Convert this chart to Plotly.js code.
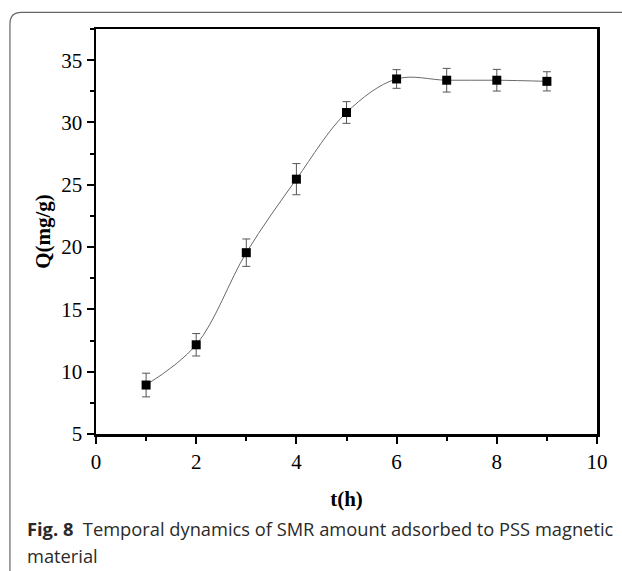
<!DOCTYPE html>
<html>
<head>
<meta charset="utf-8">
<script src="https://cdn.plot.ly/plotly-3.0.1.min.js"></script>
<style>
html,body{margin:0;padding:0;background:#fff;}
#chart{width:622px;height:571px;}
</style>
</head>
<body>
<div id="chart"></div>
<script>
// Data
var timeH = [1, 2, 3, 4, 5, 6, 7, 8, 9];
var qValues = [8.93, 12.16, 19.55, 25.45, 30.8, 33.49, 33.39, 33.39, 33.3];
var qErrors = [0.95, 0.9, 1.1, 1.25, 0.87, 0.75, 0.95, 0.87, 0.77];
var xTickVals = [0, 2, 4, 6, 8, 10];
var yTickVals = [5, 10, 15, 20, 25, 30, 35];

// Pixel geometry of the plot area
var W = 622, H = 571;
var L = 95.7, R = 597.5, T = 29, B = 434;
function px(x) { return (x - L) / (R - L); }
function py(y) { return (B - y) / (B - T); }

var serif = "'Liberation Serif', 'Times New Roman', serif";
var sans = "'Open Sans', 'Noto Sans', sans-serif";

var trace = {
  x: timeH,
  y: qValues,
  type: 'scatter',
  mode: 'lines+markers',
  line: {shape: 'spline', smoothing: 1, color: '#6a6a6a', width: 1},
  marker: {symbol: 'square', size: 9, color: '#000'},
  error_y: {type: 'data', array: qErrors, visible: true, color: '#555', thickness: 1, width: 4},
  cliponaxis: false,
  hoverinfo: 'skip'
};

// Rounded frame (caption box) path in paper coords
var boxPath = 'M ' + px(9.5) + ' ' + py(571) +
  ' L ' + px(9.5) + ' ' + py(24) +
  ' Q ' + px(9.5) + ' ' + py(12.3) + ' ' + px(21) + ' ' + py(12.3) +
  ' L ' + px(640) + ' ' + py(12.3);

var layout = {
  width: W,
  height: H,
  margin: {l: L, r: W - R, t: T, b: H - B, pad: 0},
  paper_bgcolor: '#fff',
  plot_bgcolor: '#fff',
  showlegend: false,
  font: {family: serif, color: '#000', size: 21},
  xaxis: {
    range: [0, 10],
    tickmode: 'array',
    tickvals: xTickVals,
    ticktext: xTickVals.map(String),
    ticks: 'outside',
    ticklen: 7,
    tickwidth: 2,
    tickcolor: '#000',
    minor: {dtick: 1, tick0: 0, ticks: 'outside', ticklen: 4, tickwidth: 2, tickcolor: '#000', showgrid: false},
    showline: true,
    linewidth: 2.5,
    linecolor: '#000',
    mirror: true,
    showgrid: false,
    zeroline: false,
    tickfont: {family: serif, size: 21, color: '#000'},
    title: {text: '<b>t(h)</b>', font: {family: serif, size: 21, color: '#000'}, standoff: 19}
  },
  yaxis: {
    range: [5, 37.5],
    tickmode: 'array',
    tickvals: yTickVals,
    ticktext: yTickVals.map(String),
    ticks: 'outside',
    ticklen: 7,
    tickwidth: 2,
    tickcolor: '#000',
    minor: {dtick: 2.5, tick0: 5, ticks: 'outside', ticklen: 4, tickwidth: 2, tickcolor: '#000', showgrid: false},
    showline: true,
    linewidth: 2.5,
    linecolor: '#000',
    mirror: true,
    showgrid: false,
    zeroline: false,
    tickfont: {family: serif, size: 21, color: '#000'},
    title: {text: '<b>Q(mg/g)</b>', font: {family: serif, size: 21, color: '#000'}, standoff: 5}
  },
  shapes: [{
    type: 'path',
    xref: 'paper',
    yref: 'paper',
    path: boxPath,
    line: {color: '#666', width: 1.2},
    layer: 'below'
  }],
  annotations: [
    {
      xref: 'paper', yref: 'paper',
      x: px(25), y: py(528),
      xanchor: 'left', yanchor: 'middle',
      showarrow: false,
      align: 'left',
      text: '<b>Fig. 8</b>\u00a0 Temporal dynamics of SMR amount adsorbed to PSS magnetic',
      font: {family: sans, size: 18.3, color: '#2a2a2a'}
    },
    {
      xref: 'paper', yref: 'paper',
      x: px(25), y: py(555),
      xanchor: 'left', yanchor: 'middle',
      showarrow: false,
      align: 'left',
      text: 'material',
      font: {family: sans, size: 18.3, color: '#2a2a2a'}
    }
  ]
};

Plotly.newPlot('chart', [trace], layout, {displayModeBar: false, staticPlot: true});
</script>
</body>
</html>
